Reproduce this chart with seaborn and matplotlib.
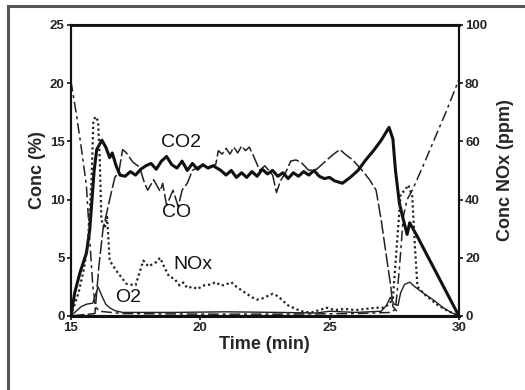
import pandas as pd
import matplotlib
matplotlib.use("Agg")
import matplotlib.pyplot as plt
import seaborn as sns

# CO2 (%), thick solid
co2_t = [15.0, 15.15, 15.35, 15.6, 15.73, 15.8, 15.9, 16.0, 16.2, 16.35, 16.5, 16.6, 16.75, 16.9,
         17.1, 17.3, 17.5, 17.7, 17.9, 18.1, 18.3, 18.5, 18.7, 18.9, 19.1, 19.3, 19.5, 19.7, 19.9,
         20.1, 20.3, 20.5, 20.8, 21.0, 21.2, 21.4, 21.6, 21.8, 22.0, 22.2, 22.4, 22.6, 22.8, 23.0,
         23.2, 23.4, 23.6, 23.8, 24.0, 24.2, 24.4, 24.6, 24.8, 25.0, 25.2, 25.5, 25.8, 26.1, 26.4,
         26.7, 27.0, 27.3, 27.45, 27.55, 27.7, 27.85, 28.0, 28.1, 28.4, 28.8, 29.2, 29.6, 30.0]
co2_v = [0, 2.0, 3.7, 5.4, 7.4, 9.5, 12.5, 14.3, 15.1, 14.5, 13.6, 14.0, 12.9, 12.1,
         12.0, 12.4, 12.1, 12.6, 12.9, 13.1, 12.6, 13.3, 13.7, 13.0, 12.7, 13.3, 12.5, 13.1, 12.6,
         13.0, 12.7, 12.9, 12.5, 12.1, 12.5, 11.9, 12.3, 11.9, 12.4, 12.0, 12.6, 12.2, 12.5, 12.0,
         12.3, 11.8, 12.3, 12.0, 12.4, 12.1, 12.5, 12.0, 11.8, 11.9, 11.6, 11.4, 11.9, 12.5, 13.4,
         14.2, 15.1, 16.2, 15.2, 12.5, 9.7, 8.3, 7.0, 8.0, 6.8, 5.1, 3.4, 1.7, 0]

# CO (%), thin long dashes
co_t = [15.0, 15.93, 16.08, 16.24, 16.5, 16.7, 16.85, 17.0, 17.15, 17.4, 17.65, 17.85, 17.97, 18.2,
        18.45, 18.55, 18.7, 18.95, 19.15, 19.3, 19.5, 19.7, 20.0, 20.3, 20.6, 20.7, 20.85, 21.0,
        21.15, 21.3, 21.45, 21.6, 21.75, 21.9, 22.05, 22.3, 22.5, 22.8, 22.95, 23.1, 23.3, 23.5,
        23.7, 23.9, 24.2, 24.5, 24.8, 25.1, 25.4, 25.6, 25.9, 26.3, 26.55, 26.8, 27.0, 27.2, 27.37,
        27.45, 27.6]
co_v = [0, 0.2, 4.2, 7.4, 10.0, 11.9, 12.3, 14.3, 14.0, 13.2, 12.8, 11.4, 10.8, 11.7,
        10.7, 11.4, 9.5, 10.8, 9.4, 10.8, 11.4, 12.5, 12.9, 12.8, 13.0, 14.2, 13.9, 14.4,
        13.9, 14.5, 14.0, 14.6, 14.2, 14.5, 13.8, 12.5, 12.9, 12.1, 10.6, 11.6, 12.3, 13.3,
        13.4, 13.2, 12.5, 12.6, 13.2, 13.8, 14.3, 13.9, 13.4, 12.4, 11.7, 10.8, 8.2, 5.1, 2.5,
        0.8, 0.4]

# O2 (%), dash-dot
o2_t = [15.0, 15.2, 15.4, 15.6, 15.73, 15.85, 15.95, 16.1, 17.0, 20.0, 23.0, 26.0, 27.4, 27.55,
        27.7, 27.85, 28.0, 28.2, 28.6, 29.0, 29.5, 30.0]
o2_v = [20.2, 17.5, 14.5, 11.2, 6.5, 2.5, 0.8, 0.4, 0.2, 0.15, 0.15, 0.2, 0.3, 0.6,
        4.0, 8.5, 10.0, 10.8, 12.8, 14.9, 17.5, 20.3]

# NOx (ppm), dotted, right axis
nox_t = [15.0, 15.3, 15.5, 15.65, 15.8, 15.87, 15.95, 16.05, 16.12, 16.18, 16.3, 16.4, 16.5, 16.8,
         17.15, 17.5, 17.8, 18.0, 18.3, 18.45, 18.6, 18.8, 19.0, 19.2, 19.35, 19.5, 19.7, 19.9,
         20.1, 20.4, 20.6, 20.8, 21.0, 21.2, 21.4, 21.6, 21.8, 22.0, 22.2, 22.4, 22.6, 22.8, 23.0,
         23.2, 23.4, 23.6, 23.8, 24.0, 24.3, 24.6, 24.9, 25.2, 25.6, 26.0, 26.4, 26.8, 27.1, 27.3,
         27.45, 27.6, 27.75, 27.9, 28.05, 28.2, 28.3, 28.4, 28.7, 29.2, 29.6, 30.0]
nox_v = [0, 8, 16, 24, 47, 67, 68.5, 67, 53, 33, 30, 34, 19, 15,
         11, 10.5, 19, 17, 18.5, 20, 17, 13.5, 12.8, 10.5, 11.5, 9.6, 10, 9.2,
         10.4, 10.8, 11.6, 10.4, 10.8, 11.6, 10, 8.8, 7.6, 6.4, 5.6, 6, 6.8, 7.6, 6.8,
         5.2, 3.6, 2.8, 2, 1.4, 1.2, 2, 2.8, 2, 2.4, 2, 2.4, 2.8, 2.8, 4,
         6, 24, 42, 43, 45, 41, 24, 10, 7.2, 3.6, 1.6, 0]

# unlabelled thin trace near the baseline
low_t = [15.0, 15.2, 15.4, 15.6, 15.85, 15.95, 16.05, 16.2, 16.35, 16.5, 16.7, 17.0, 19.0, 21.0,
         23.0, 24.5, 25.0, 26.0, 27.0, 27.2, 27.35, 27.5, 27.65, 27.75, 27.9, 28.1, 28.3, 28.6,
         29.0, 29.4, 29.7, 30.0]
low_v = [0, 0.4, 0.8, 1.0, 1.1, 1.8, 2.5, 1.7, 1.0, 0.7, 0.45, 0.3, 0.3, 0.35,
         0.3, 0.25, 0.4, 0.3, 0.4, 0.9, 1.6, 1.0, 0.9, 2.0, 2.7, 2.9, 2.5, 2.0,
         1.4, 0.7, 0.3, 0]

sns.set_style("white")
plt.rcParams['font.family'] = ['Liberation Sans', 'DejaVu Sans']

fig = plt.figure(figsize=(5.25, 3.9), dpi=100)
ax = fig.add_axes([0.135, 0.19, 0.739, 0.746])
ax2 = ax.twinx()

# outer frame of the scanned figure
fig.patches.append(plt.Rectangle((0.016, -0.05), 1.2, 1.035, transform=fig.transFigure,
                                 fill=False, edgecolor='#555555', linewidth=2.2))

df_co2 = pd.DataFrame({'t': co2_t, 'v': co2_v})
df_co = pd.DataFrame({'t': co_t, 'v': co_v})
df_o2 = pd.DataFrame({'t': o2_t, 'v': o2_v})
df_low = pd.DataFrame({'t': low_t, 'v': low_v})
df_nox = pd.DataFrame({'t': nox_t, 'v': nox_v})

sns.lineplot(data=df_low, x='t', y='v', ax=ax, color='#222222', linewidth=1.0, sort=False)
sns.lineplot(data=df_o2, x='t', y='v', ax=ax, color='#222222', linewidth=1.1, sort=False)
ax.lines[-1].set_dashes([7, 2.5, 2, 2.5])
sns.lineplot(data=df_co, x='t', y='v', ax=ax, color='#222222', linewidth=1.1, sort=False)
ax.lines[-1].set_dashes([9, 2])
sns.lineplot(data=df_co2, x='t', y='v', ax=ax, color='#111111', linewidth=2.2, sort=False)
sns.lineplot(data=df_nox, x='t', y='v', ax=ax2, color='#222222', linewidth=1.6, sort=False)
ax2.lines[-1].set_dashes([1, 1.3])

ax.set_xlim(15, 30)
ax.set_ylim(0, 25)
ax2.set_ylim(0, 100)
ax.set_xticks([15, 20, 25, 30])
ax.set_yticks([0, 5, 10, 15, 20, 25])
ax2.set_yticks([0, 20, 40, 60, 80, 100])

for a in (ax, ax2):
    a.tick_params(direction='out', length=3, width=1.2, labelsize=9.5, pad=1.5, color='#111111')
    for lab in a.get_xticklabels() + a.get_yticklabels():
        lab.set_fontweight('bold')
    for s in a.spines.values():
        s.set_visible(True)
        s.set_color('#111111')
        s.set_linewidth(1.5)
ax.spines['bottom'].set_linewidth(2.2)
ax.spines['top'].set_linewidth(2.0)
ax.tick_params(axis='y', left=True)
ax.tick_params(axis='x', bottom=True)
ax2.tick_params(axis='y', right=True)

ax.set_xlabel("Time (min)", fontsize=13, fontweight='bold', labelpad=1)
ax.set_ylabel("Conc (%)", fontsize=13, fontweight='bold', labelpad=3)
ax2.set_ylabel("Conc NOx (ppm)", fontsize=13, fontweight='bold', labelpad=7)

lbl = dict(fontsize=14, color='#111111', ha='center', va='center')
ax.text(19.25, 14.9, "CO2", **lbl)
ax.text(19.1, 8.9, "CO", **lbl)
ax.text(19.7, 4.4, "NOx", **lbl)
ax.text(17.2, 1.6, "O2", **lbl)

fig.savefig("out.png", dpi=100)
